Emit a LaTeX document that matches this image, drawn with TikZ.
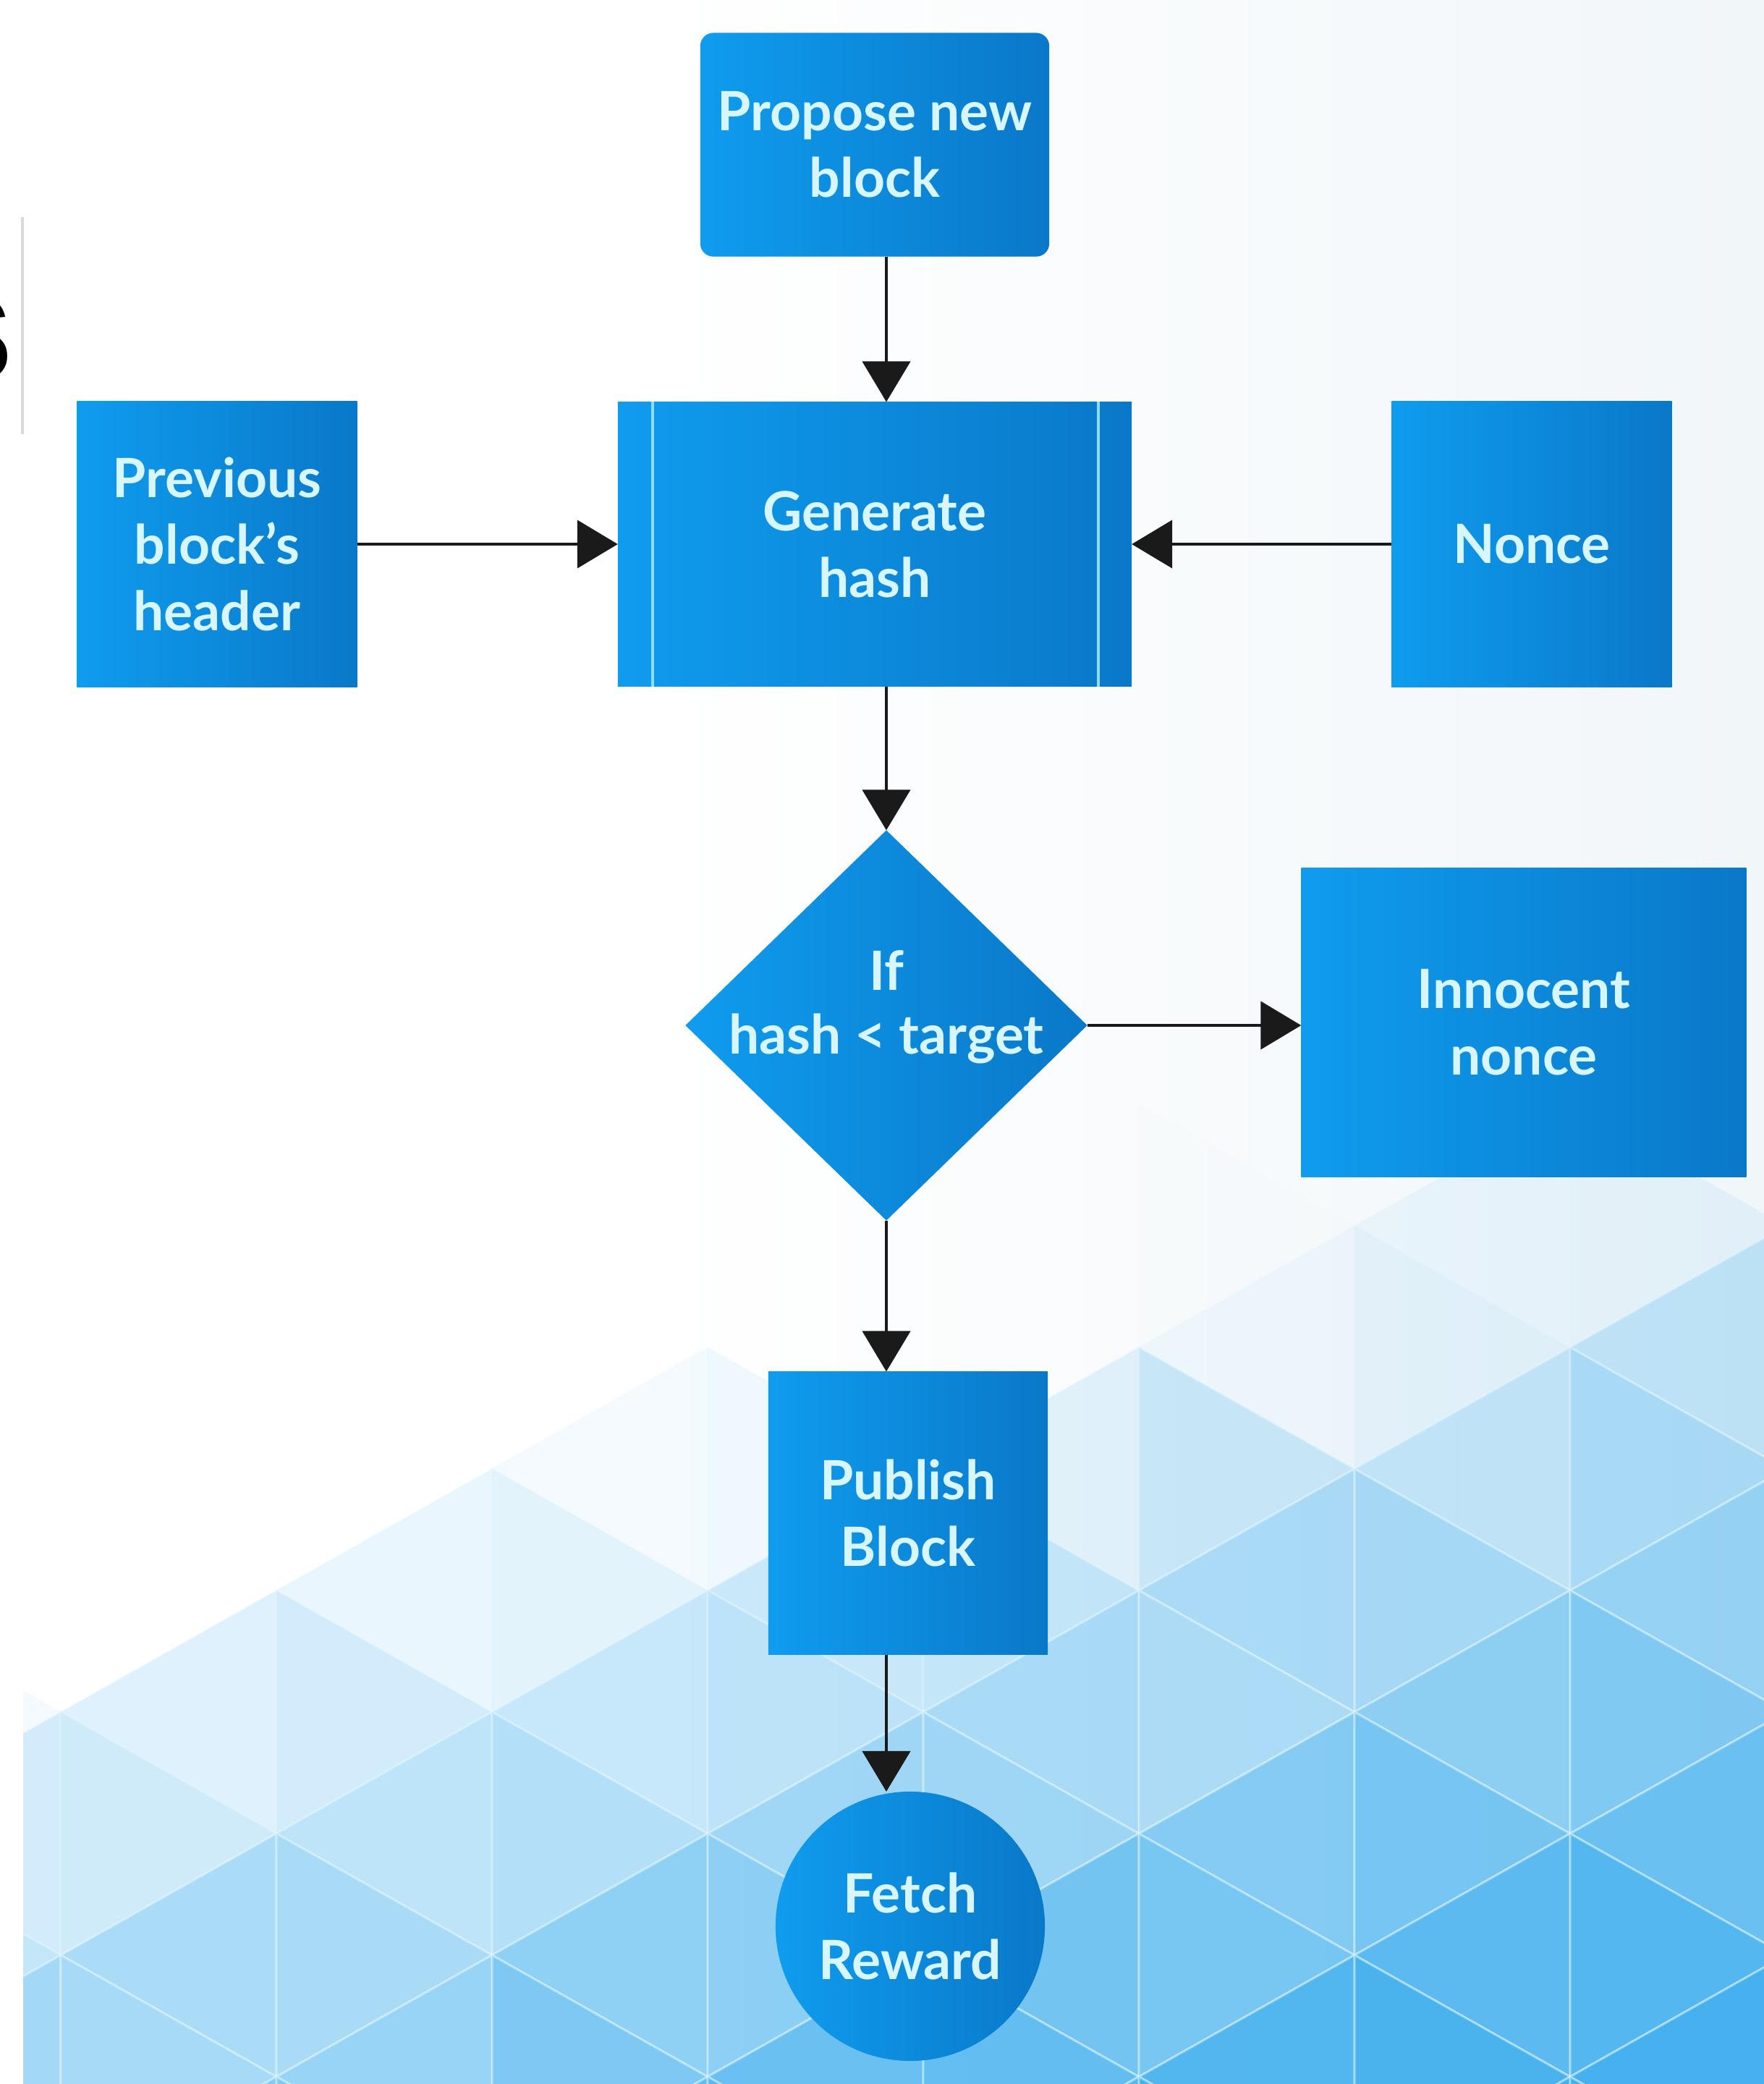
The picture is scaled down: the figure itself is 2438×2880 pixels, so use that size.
\documentclass[tikz,border=0pt]{standalone}
\usepackage{fontspec}
\setmainfont{Lato}
\newfontfamily\glyphfont{Liberation Sans}
\usetikzlibrary{arrows.meta,shapes.geometric,calc}

\definecolor{boxlight}{HTML}{0F9CEF}
\definecolor{boxdark}{HTML}{0A78C8}
\definecolor{labelc}{HTML}{D8F6FF}
\definecolor{barc}{HTML}{8FDCFF}
\definecolor{bgdeep}{HTML}{3DAEEE}
\definecolor{hazec}{HTML}{F1F6F9}
\definecolor{rulec}{HTML}{D9D9D9}
\definecolor{arrowc}{HTML}{1A1A1A}
\definecolor{seamc}{HTML}{EAFAFF}

\begin{document}
\begin{tikzpicture}[x=0.01cm, y=-0.01cm,
  every node/.style={inner sep=0pt, outer sep=0pt},
  labelfont/.style={font=\bfseries\fontsize{21.3pt}{26.2pt}\selectfont},
  blockbox/.style={rectangle, left color=boxlight, right color=boxdark,
    text=labelc, labelfont, align=center},
  decision/.style={diamond, left color=boxlight, right color=boxdark},
  terminal/.style={circle, left color=boxlight, right color=boxdark,
    text=labelc, labelfont, align=center},
  labeltext/.style={text=labelc, font=\bfseries\fontsize{21.3pt}{25pt}\selectfont, align=center},
  barline/.style={draw=barc, line width=0.04cm},
  arr/.style={draw=arrowc, line width=0.045cm,
    -{Triangle[length=0.56cm, width=0.66cm]}},
]
\useasboundingbox (0,0) rectangle (2438,2880);
\clip (0,0) rectangle (2438,2880);

% ---- background ----
\fill[white] (0,0) rectangle (2438,2880);
\fill[left color=white, right color=hazec] (900,0) rectangle (2438,2880);

% triangular lattice, tinted more strongly towards the lower right
\begin{scope}
  \clip (32,0) rectangle (2438,2880);
  \pgfmathsetseed{11}
  \foreach \k in {-1,...,8}{
    \foreach \m in {-5,...,3}{
      \pgfmathsetmacro\xl{84+298*\k}
      \pgfmathsetmacro\xr{\xl+298}
      \pgfmathsetmacro\Y{1862+336*\m}
      \pgfmathtruncatemacro\odd{mod(\k+10,2)}
      \ifnum\odd=1 \edef\xa{\xl}\edef\xb{\xr}\else \edef\xa{\xr}\edef\xb{\xl}\fi
      \pgfmathsetmacro\ta{max(0,min(0.97,0.000755*(\Y+168-2290)+0.00025*(2*\xa+\xb)/3+0.06*rand))}
      \pgfmathsetmacro\la{min(0.45,1.2*\ta)}
      \path[fill=bgdeep, fill opacity=\ta, draw=seamc, draw opacity=\la,
            line width=0.03cm, line join=round]
        (\xa,\Y) -- (\xa,\Y+336) -- (\xb,\Y+168) -- cycle;
      \pgfmathsetmacro\tb{max(0,min(0.97,0.000755*(\Y+336-2290)+0.00025*(\xa+2*\xb)/3+0.06*rand))}
      \pgfmathsetmacro\lb{min(0.45,1.2*\tb)}
      \path[fill=bgdeep, fill opacity=\tb, draw=seamc, draw opacity=\lb,
            line width=0.03cm, line join=round]
        (\xb,\Y+168) -- (\xb,\Y+504) -- (\xa,\Y+336) -- cycle;
    }
  }
\end{scope}

% cut-off glyph and rule at the left edge
\node[anchor=base east, font=\glyphfont\bfseries\fontsize{64pt}{64pt}\selectfont] (cut) at (20,527) {s};
\draw[rulec, line width=0.03cm] (31,300) -- (31,600);

% ---- flowchart nodes ----
\node[blockbox, rounded corners=0.18cm, minimum width=4.82cm, minimum height=3.09cm]
  (pro) at (1209,200) {Propose new\\block};
\node[blockbox, minimum width=3.87cm, minimum height=3.95cm]
  (prev) at (300,752) {Previous\\block’s\\header};
\node[blockbox, minimum width=7.10cm, minimum height=3.93cm]
  (gen) at (1209,752) {Generate\\hash};
\draw[barline] ([xshift=0.48cm]gen.north west) -- ([xshift=0.48cm]gen.south west);
\draw[barline] ([xshift=-0.46cm]gen.north east) -- ([xshift=-0.46cm]gen.south east);
\node[blockbox, minimum width=3.87cm, minimum height=3.95cm]
  (non) at (2117,752) {Nonce};
\node[decision, minimum width=5.55cm, minimum height=5.39cm]
  (dia) at (1225,1417) {};
\node[labeltext] (diat) at (1225,1392) {If\\hash < target};
\node[blockbox, minimum width=6.15cm, minimum height=4.26cm]
  (inn) at (2106,1413) {Innocent\\nonce};
\node[blockbox, minimum width=3.86cm, minimum height=3.91cm]
  (pub) at (1255,2091) {Publish\\Block};
\node[terminal, minimum size=3.72cm]
  (fet) at (1258,2662) {Fetch\\Reward};

% ---- connectors ----
\draw[arr] (pro.south -| dia.north) -- (gen.north -| dia.north);
\draw[arr] (prev.east) -- (gen.west);
\draw[arr] (non.west) -- (gen.east);
\draw[arr] (gen.south -| dia.north) -- (dia.north);
\draw[arr] (dia.east) -- (dia.east -| inn.west);
\draw[arr] (dia.south) -- (dia.south |- pub.north);
\draw[arr] (pub.south -| dia.south) -- (fet.north -| dia.south);
\end{tikzpicture}
\end{document}
